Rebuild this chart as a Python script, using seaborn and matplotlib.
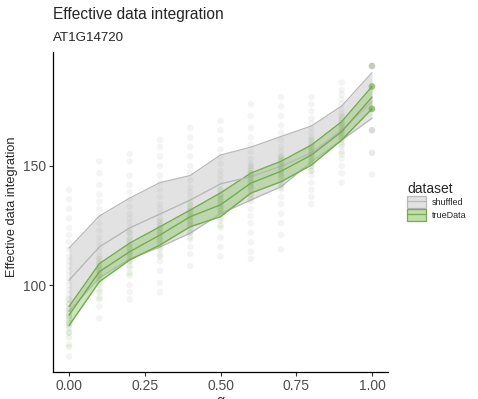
import matplotlib
matplotlib.use("Agg")
import matplotlib.pyplot as plt
import seaborn as sns
import numpy as np
import pandas as pd
from matplotlib.patches import Patch
from matplotlib.lines import Line2D

# summary bands (low / middle / high) per alpha
alpha = [0.0, 0.1, 0.2, 0.3, 0.4, 0.5, 0.6, 0.7, 0.8, 0.9, 1.0]
shuf_hi = [115.5, 129, 136.5, 143, 146, 154.6, 157.9, 162.4, 166.8, 175.2, 189.2]
shuf_mid = [102, 116, 124, 129.8, 135.7, 142.5, 145.5, 149.9, 155.5, 165.1, 177.1]
shuf_lo = [89, 103, 111, 116, 121.8, 130, 135.7, 141.3, 151.8, 160.9, 170]
true_hi = [91, 109, 117.6, 124.5, 131.5, 138.7, 147, 152, 158.8, 168.6, 183.4]
true_mid = [87.4, 105.6, 114, 121, 128.7, 133.7, 142.8, 147.8, 154.6, 164.4, 178.9]
true_lo = [83, 101.4, 110.5, 116.8, 124.5, 128.7, 138.6, 143.4, 150.4, 160.9, 174]

# individual observations per alpha
shuf_points = {
    0.0: [140, 136, 132, 128, 124, 121, 118, 115, 112, 110, 108, 106, 104, 102, 100, 98, 96, 94, 92, 90, 87, 84, 80, 75, 70],
    0.1: [152, 147, 142, 138, 135, 132, 129, 126, 123, 120, 118, 116, 114, 112, 110, 107, 104, 101, 98, 95, 91, 86],
    0.2: [155, 152, 146, 142, 139, 136, 133, 130, 128, 126, 124, 122, 120, 118, 116, 113, 110, 107, 104, 100, 97, 94],
    0.3: [161, 158, 154, 150, 146, 143, 140, 137, 134, 132, 130, 128, 126, 124, 122, 119, 116, 113, 110, 106, 101, 97],
    0.4: [166, 162, 158, 154, 150, 147, 144, 141, 139, 137, 135, 133, 131, 129, 127, 125, 122, 119, 116, 113, 108],
    0.5: [169, 165, 161, 157, 154, 151, 148, 146, 144, 142, 140, 138, 136, 134, 132, 130, 127, 124, 120, 116, 112],
    0.6: [176, 171, 166, 162, 159, 156, 153, 151, 149, 147, 145, 143, 141, 139, 137, 135, 132, 129, 126, 122, 118, 114, 111],
    0.7: [179, 175, 171, 167, 164, 161, 158, 156, 154, 152, 150, 148, 146, 144, 142, 140, 137, 134, 130, 126, 121, 115],
    0.8: [179, 176, 173, 170, 168, 166, 164, 162, 160, 158, 156, 154, 152, 150, 148, 146, 143, 140, 137, 134],
    0.9: [185, 182, 180, 178, 176, 174, 172, 170, 168, 166, 164, 162, 160, 158, 156, 153, 150, 147, 143],
    1.0: [192, 192, 192, 192, 165, 165, 165, 165, 155.5, 155.5, 146.4],
}
true_points = {
    0.0: [94, 92, 90, 89, 88, 87, 86, 85, 84, 83, 82, 80, 78, 74],
    0.1: [111, 109, 108, 107, 106, 105, 104, 103, 102, 100, 97, 94],
    0.2: [122, 119, 117, 116, 115, 114, 113, 112, 111, 110, 108, 105],
    0.3: [127, 125, 124, 123, 122, 121, 120, 119, 118, 117, 115, 112],
    0.4: [134, 132, 131, 130, 129, 128, 127, 126, 125, 124, 122, 120],
    0.5: [140, 138, 137, 136, 135, 134, 133, 132, 131, 130, 128, 125],
    0.6: [150, 148, 147, 146, 145, 144, 143, 142, 141, 140, 138, 136],
    0.7: [154, 153, 152, 151, 150, 149, 148, 147, 146, 145, 143, 141],
    0.8: [161, 159, 158, 157, 156, 155, 154, 153, 152, 151, 150, 148],
    0.9: [171, 169, 168, 167, 166, 165, 164, 163, 162, 161, 159, 155],
    1.0: [192, 192, 183.4, 183.4, 183.4, 183.4, 183.4, 183.4, 183.4, 183.4, 174, 174, 174, 174, 174, 174, 174, 174],
}

rows = []
for a, vals in shuf_points.items():
    rows += [("shuffled", a, v) for v in vals]
for a, vals in true_points.items():
    rows += [("trueData", a, v) for v in vals]
pts = pd.DataFrame(rows, columns=["dataset", "alpha", "value"])

bands = pd.DataFrame({"alpha": alpha * 2,
                      "mid": shuf_mid + true_mid,
                      "dataset": ["shuffled"] * len(alpha) + ["trueData"] * len(alpha)})

sns.set_style("white")
plt.rcParams["font.family"] = ["Liberation Sans", "DejaVu Sans"]

gray_line, gray_fill = "#b9b9b9", "#d6d6d6"
green_line, green_fill = "#74ad4e", "#9ccc7c"

fig = plt.figure(figsize=(4.78, 3.99), dpi=100)
ax = fig.add_axes([0.1115, 0.0684, 0.6996, 0.802])

ax.fill_between(alpha, shuf_lo, shuf_hi, color=gray_fill, alpha=0.7, lw=0, zorder=1)
ax.plot(alpha, shuf_lo, color=gray_line, lw=0.9, zorder=2)
ax.plot(alpha, shuf_hi, color=gray_line, lw=0.9, zorder=2)
ax.fill_between(alpha, true_lo, true_hi, color=green_fill, alpha=0.5, lw=0, zorder=3)
ax.plot(alpha, true_lo, color=green_line, lw=1.0, zorder=4)
ax.plot(alpha, true_hi, color=green_line, lw=1.0, zorder=4)
sns.lineplot(data=bands, x="alpha", y="mid", hue="dataset",
             palette={"shuffled": gray_line, "trueData": green_line},
             lw=1.0, legend=False, ax=ax, zorder=4)

sns.scatterplot(data=pts, x="alpha", y="value", hue="dataset",
                palette={"shuffled": "#a8a8a8", "trueData": "#6fa84a"},
                s=22, alpha=0.12, linewidth=0, legend=False, ax=ax, zorder=5)

ax.set_xlim(-0.052, 1.052)
ax.set_ylim(63.6, 198.0)
ax.set_xticks([0, 0.25, 0.5, 0.75, 1.0])
ax.set_xticklabels(["0.00", "0.25", "0.50", "0.75", "1.00"])
ax.set_yticks([100, 150])
ax.tick_params(axis="both", length=3, width=0.8, color="#333333",
               labelsize=10, labelcolor="#4d4d4d", pad=2, left=True, bottom=True)
for s in ["top", "right"]:
    ax.spines[s].set_visible(False)
for s in ["left", "bottom"]:
    ax.spines[s].set_color("black")
    ax.spines[s].set_linewidth(0.9)
ax.set_xlabel("α", fontsize=10, labelpad=1)
ax.set_ylabel("Effective data integration", fontsize=9.2)
ax.yaxis.set_label_coords(-0.106, 0.515)

fig.text(0.1115, 1 - 19.5 / 399, "Effective data integration", fontsize=11.2, va="baseline", ha="left")
fig.text(0.1115, 1 - 41 / 399, "AT1G14720", fontsize=9.6, va="baseline", ha="left")

handles = [
    (Patch(facecolor="#e2e2e2", edgecolor=gray_line, lw=0.9), Line2D([], [], color=gray_line, lw=0.9)),
    (Patch(facecolor="#c2dcae", edgecolor=green_line, lw=0.9), Line2D([], [], color=green_line, lw=0.9)),
]
leg = fig.legend(handles, ["shuffled", "trueData"], title="dataset",
                 loc="upper left", bbox_to_anchor=(0.852, 0.545),
                 frameon=False, fontsize=6.5, title_fontsize=10,
                 handlelength=2.1, handleheight=1.75, handletextpad=0.6,
                 labelspacing=0.05, borderaxespad=0, borderpad=0)
leg._legend_box.align = "left"

fig.savefig("out.png", dpi=100)
